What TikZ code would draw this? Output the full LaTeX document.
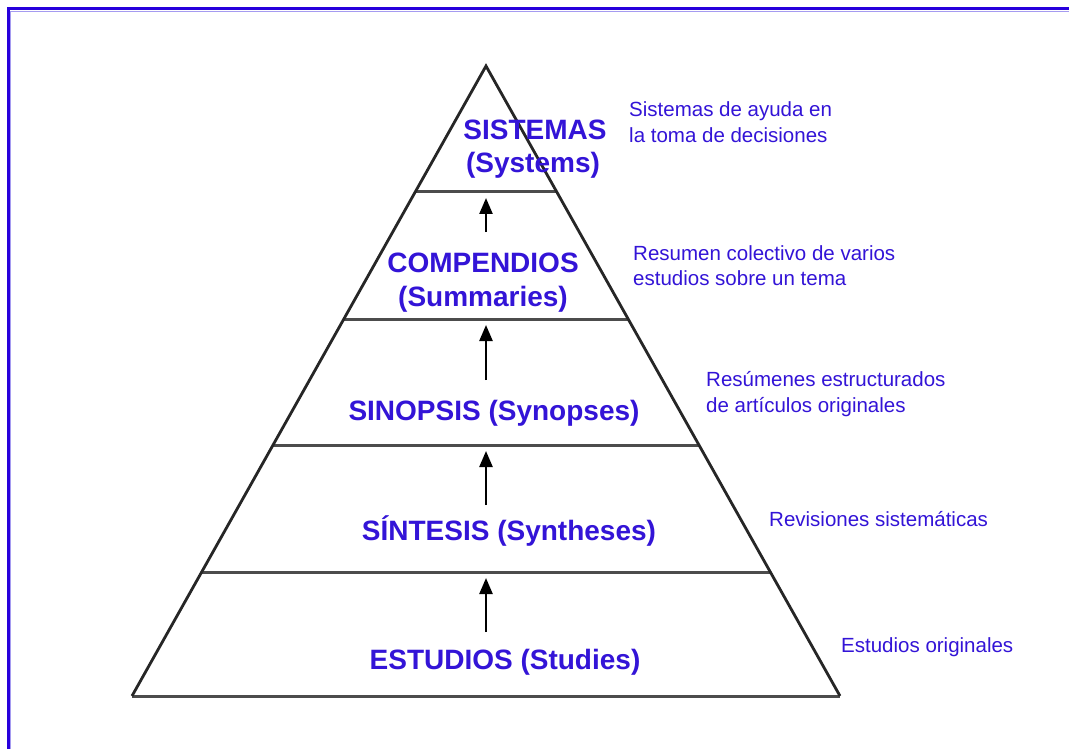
\documentclass[tikz,border=0pt]{standalone}
\usepackage{fontspec}
\setmainfont{Liberation Sans}
\usetikzlibrary{arrows.meta}
\definecolor{txtblue}{RGB}{51,20,215}
\definecolor{frameblue}{RGB}{40,0,220}
\definecolor{framelight}{RGB}{165,155,240}
\begin{document}
\begin{tikzpicture}[x=1pt,y=-1pt,
  mainlbl/.style={text=txtblue, font=\bfseries\fontsize{28}{33}\selectfont, inner sep=0, anchor=base},
  sidelbl/.style={text=txtblue, font=\fontsize{20.5}{26}\selectfont, inner sep=0, anchor=base west},
  pyredge/.style={line width=2.8pt, draw=black!85, line join=miter},
  levelline/.style={line width=3pt, draw=black!70},
  uparrow/.style={-{Triangle[length=16pt,width=13pt]}, line width=2.4pt, draw=black}]
\useasboundingbox (0,0) rectangle (1069,749);
\fill[white] (0,0) rectangle (1069,749);
% frame (top and left only)
\draw[frameblue, line width=3pt] (8,749) -- (8,9) -- (1069,9);
\draw[framelight, line width=1.2pt] (10.8,749) -- (10.8,11.8) -- (1069,11.8);
% pyramid
\coordinate (apex) at (486,66);
\coordinate (bl) at (132,696);
\coordinate (br) at (840,696);
\coordinate (l1a) at (415.2,192); \coordinate (l1b) at (556.8,192);
\coordinate (l2a) at (343.8,319); \coordinate (l2b) at (628.2,319);
\coordinate (l3a) at (273,445);   \coordinate (l3b) at (699,445);
\coordinate (l4a) at (201.7,572); \coordinate (l4b) at (770.3,572);
\draw[levelline] (l1a) -- (l1b);
\draw[levelline] (l2a) -- (l2b);
\draw[levelline] (l3a) -- (l3b);
\draw[levelline] (l4a) -- (l4b);
\draw[levelline] (bl) -- (br);
\draw[pyredge] (bl) -- (apex) -- (br);
% arrows
\coordinate (a1t) at (486,232); \coordinate (a1h) at (486,198);
\coordinate (a2t) at (486,380); \coordinate (a2h) at (486,325);
\coordinate (a3t) at (486,505); \coordinate (a3h) at (486,451);
\coordinate (a4t) at (486,632); \coordinate (a4h) at (486,578);
\draw[uparrow] (a1t) -- (a1h);
\draw[uparrow] (a2t) -- (a2h);
\draw[uparrow] (a3t) -- (a3h);
\draw[uparrow] (a4t) -- (a4h);
% main labels
\node[mainlbl] (sisA) at (535,140) {SISTEMAS};
\node[mainlbl] (sisB) at (533,173) {(Systems)};
\node[mainlbl] (comA) at (483,272) {COMPENDIOS};
\node[mainlbl] (comB) at (483,306) {(Summaries)};
\node[mainlbl] (sin) at (494,420) {SINOPSIS (Synopses)};
\node[mainlbl] (sint) at (509,540) {SÍNTESIS (Syntheses)};
\node[mainlbl] (est) at (505,669) {ESTUDIOS (Studies)};
% side labels
\node[sidelbl] (s1a) at (629,117) {Sistemas de ayuda en};
\node[sidelbl] (s1b) at (629,143) {la toma de decisiones};
\node[sidelbl] (s2a) at (633,260) {Resumen colectivo de varios};
\node[sidelbl] (s2b) at (633,285) {estudios sobre un tema};
\node[sidelbl] (s3a) at (706,386) {Resúmenes estructurados};
\node[sidelbl] (s3b) at (706,412) {de artículos originales};
\node[sidelbl] (s4) at (769,526) {Revisiones sistemáticas};
\node[sidelbl] (s5) at (841,652) {Estudios originales};
\end{tikzpicture}
\end{document}
